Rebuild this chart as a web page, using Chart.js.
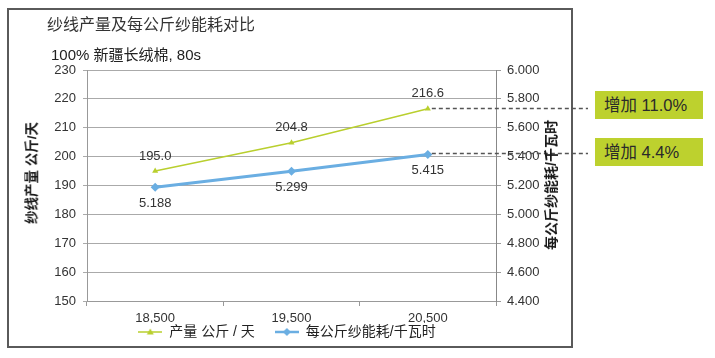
<!DOCTYPE html>
<html><head><meta charset="utf-8">
<script src="https://cdn.jsdelivr.net/npm/chart.js@4/dist/chart.umd.min.js"></script>
<style>
html,body{margin:0;padding:0;background:#fff;}
#wrap{position:relative;width:715px;height:358px;overflow:hidden;font-family:'Liberation Sans','Noto Sans CJK SC',sans-serif;}
#frame{position:absolute;left:7px;top:8px;width:566px;height:340px;border:2px solid #5a5a5a;box-sizing:border-box;}
canvas{position:absolute;left:0;top:0;}
.t{position:absolute;white-space:nowrap;color:#333;line-height:1;}
.rot{transform:translate(-50%,-50%) rotate(-90deg);}
.badge{position:absolute;width:108px;height:28px;background:#bdd12e;color:#2a2a2a;font-size:16.5px;line-height:28px;padding-left:9px;box-sizing:border-box;white-space:nowrap;}
</style></head>
<body>
<div id="wrap">
  <div id="frame"></div>
  <canvas id="c" width="715" height="358"></canvas>
  <div class="t" id="title" style="left:47px;top:17px;font-size:16px;color:#333;"></div>
  <div class="t" id="subtitle" style="left:51px;top:47px;font-size:15px;color:#222;"></div>
  <div class="t rot" id="ytitle" style="left:32px;top:173px;font-size:13.5px;color:#1a1a1a;font-weight:600;"></div>
  <div class="t rot" id="y1title" style="left:551px;top:185px;font-size:14px;color:#1a1a1a;font-weight:600;"></div>
  <div class="badge" id="b0" style="left:595px;top:91px;"></div>
  <div class="badge" id="b1" style="left:595px;top:138px;"></div>
</div>
<script>
// ---- data ----
const categories = ['18,500', '19,500', '20,500'];
const seriesNames = ['产量 公斤 / 天', '每公斤纱能耗/千瓦时'];
const output = [195.0, 204.8, 216.6];
const energy = [5.188, 5.299, 5.415];
const badgeTexts = ['增加 11.0%', '增加 4.4%'];
const titleText = '纱线产量及每公斤纱能耗对比';
const subtitleText = '100% 新疆长绒棉, 80s';
const yTitle = '纱线产量 公斤/天';
const y1Title = '每公斤纱能耗/千瓦时';
const yMin = 150, yMax = 230, yStep = 10;
const y1Min = 4.4, y1Max = 6.0, y1Step = 0.2;

document.getElementById('title').textContent = titleText;
document.getElementById('subtitle').textContent = subtitleText;
document.getElementById('ytitle').textContent = yTitle;
document.getElementById('y1title').textContent = y1Title;
document.getElementById('b0').textContent = badgeTexts[0];
document.getElementById('b1').textContent = badgeTexts[1];

const GREEN = '#b9cf2e';
const BLUE = '#6aaee2';
const FONT = "'Liberation Sans','Noto Sans CJK SC',sans-serif";

function legendImg(color, style, lw) {
  const c = document.createElement('canvas');
  c.width = 24; c.height = 10;
  const g = c.getContext('2d');
  g.strokeStyle = color; g.lineWidth = lw;
  g.beginPath(); g.moveTo(0, 5); g.lineTo(24, 5); g.stroke();
  g.fillStyle = color;
  g.beginPath();
  if (style === 'tri') { g.moveTo(12, 1.5); g.lineTo(15.5, 7.5); g.lineTo(8.5, 7.5); }
  else { g.moveTo(12, 1); g.lineTo(16, 5); g.lineTo(12, 9); g.lineTo(8, 5); }
  g.closePath(); g.fill();
  return c;
}
const legendImgs = [legendImg(GREEN, 'tri', 1.5), legendImg(BLUE, 'dia', 2.5)];

const extras = {
  id: 'extras',
  afterInit(chart) {
    const lg = chart.legend;
    if (lg) {
      const f = lg.fit.bind(lg);
      lg.fit = function () { f(); this.height = 35; };
    }
  },
  afterLayout(chart) {
    const lg = chart.legend;
    if (lg) { lg.top -= 18; lg.bottom -= 18; }
  },
  afterDatasetsDraw(chart) {
    const ctx = chart.ctx;
    ctx.save();
    ctx.font = '13px ' + FONT;
    ctx.fillStyle = '#333';
    ctx.textAlign = 'center';
    ctx.textBaseline = 'middle';
    chart.getDatasetMeta(0).data.forEach((p, i) => ctx.fillText(output[i].toFixed(1), p.x, p.y - 15));
    chart.getDatasetMeta(1).data.forEach((p, i) => ctx.fillText(energy[i].toFixed(3), p.x, p.y + 16));
    ctx.setLineDash([4, 3]);
    ctx.strokeStyle = '#555';
    ctx.lineWidth = 1.5;
    const last = categories.length - 1;
    [0, 1].forEach(d => {
      const p = chart.getDatasetMeta(d).data[last];
      ctx.beginPath();
      ctx.moveTo(p.x + 4, Math.round(p.y) - 0.5);
      ctx.lineTo(588, Math.round(p.y) - 0.5);
      ctx.stroke();
    });
    ctx.restore();
  }
};

new Chart(document.getElementById('c'), {
  type: 'line',
  data: {
    labels: categories,
    datasets: [
      { label: seriesNames[0], data: output, yAxisID: 'y', borderColor: GREEN, backgroundColor: GREEN,
        borderWidth: 1.5, pointStyle: 'triangle', pointRadius: 3.5, pointBorderWidth: 0, tension: 0 },
      { label: seriesNames[1], data: energy, yAxisID: 'y1', borderColor: BLUE, backgroundColor: BLUE,
        borderWidth: 3, pointStyle: 'rectRot', pointRadius: 4.5, pointBorderWidth: 0, tension: 0 }
    ]
  },
  options: {
    responsive: false, animation: false, devicePixelRatio: 1,
    layout: { padding: { left: 8, right: 149, top: 70, bottom: 0 } },
    font: { family: FONT },
    plugins: {
      tooltip: { enabled: false },
      legend: {
        position: 'bottom',
        labels: {
          usePointStyle: true, pointStyleWidth: 24, padding: 20, color: '#222',
          font: { size: 14, family: FONT },
          generateLabels(chart) {
            const items = Chart.defaults.plugins.legend.labels.generateLabels(chart);
            items.forEach((it, i) => { it.pointStyle = legendImgs[i]; });
            return items;
          }
        }
      }
    },
    scales: {
      x: {
        offset: true,
        grid: { drawOnChartArea: false, offset: true, tickLength: 5, color: '#999' },
        border: { color: '#999' },
        ticks: { color: '#333', font: { size: 13, family: FONT }, padding: 5, maxRotation: 0 },
        afterFit(s) { s.height = 22; }
      },
      y: {
        position: 'left', min: yMin, max: yMax,
        ticks: { stepSize: yStep, padding: 7, color: '#333', font: { size: 13, family: FONT } },
        grid: { color: '#aaa', tickLength: 4 },
        border: { color: '#999' },
        afterFit(s) { s.width = 79; }
      },
      y1: {
        position: 'right', min: y1Min, max: y1Max,
        ticks: { stepSize: y1Step, padding: 6, color: '#333', font: { size: 13, family: FONT },
                 callback: v => Number(v).toFixed(3) },
        grid: { drawOnChartArea: false, tickLength: 5, color: '#999' },
        border: { color: '#888' },
        afterFit(s) { s.width = 70; }
      }
    }
  },
  plugins: [extras]
});
</script>
</body></html>
